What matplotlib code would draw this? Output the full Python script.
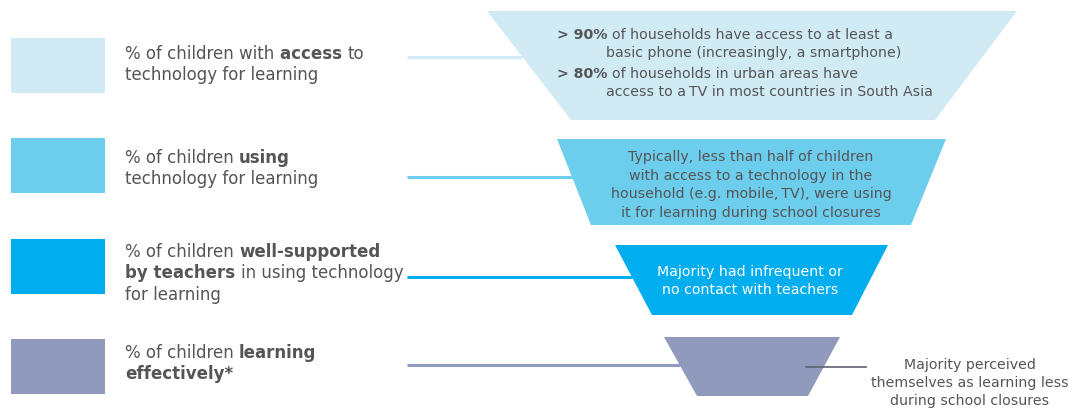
import matplotlib
matplotlib.use('Agg')
import matplotlib.pyplot as plt
from matplotlib.patches import Polygon, Rectangle

plt.rcParams['font.family'] = ['DejaVu Sans']

# levels of the funnel, top to bottom
level_colors = ['#d0ebf4', '#6dcdec', '#00aeef', '#8f9abd']
# label text as (text, bold) runs, one list per line
level_labels = [
    [[('% of children with ', 0), ('access ', 1), ('to', 0)],
     [('technology for learning', 0)]],
    [[('% of children ', 0), ('using', 1)],
     [('technology for learning', 0)]],
    [[('% of children ', 0), ('well-supported', 1)],
     [('by teachers ', 1), ('in using technology', 0)],
     [('for learning', 0)]],
    [[('% of children ', 0), ('learning', 1)],
     [('effectively*', 1)]],
]
access_notes = [
    ('> 90%', 'of households have access to at least a', 'basic phone (increasingly, a smartphone)'),
    ('> 80%', 'of households in urban areas have', 'access to a\u2009TV in most countries in South Asia'),
]
using_note = ('Typically, less than half of children\nwith access to a technology in the\n'
              'household (e.g. mobile,\u2009TV), were using\nit for learning during school closures')
teacher_note = 'Majority had infrequent or\nno contact with teachers'
learning_note = 'Majority perceived\nthemselves as learning less\nduring school closures'

# funnel geometry in pixels: (top y, bottom y, top left, top right, bottom left, bottom right)
trap = [
    (12, 121, 487, 1017, 571, 935),
    (140, 226, 557, 946, 591, 911),
    (246, 316, 615, 888, 652, 852),
    (338, 397, 664, 840, 697, 808),
]
square_top = [39, 139, 240, 340]
label_base = [59, 163, 257, 358]
line_y = [58, 178, 278, 366]

W, H = 1069, 410
fig = plt.figure(figsize=(W / 100, H / 100), dpi=100)
ax = fig.add_axes([0, 0, 1, 1])
ax.set_xlim(0, W)
ax.set_ylim(H, 0)
ax.axis('off')
renderer = fig.canvas.get_renderer()
txt_col = '#555558'
lab_size = 12.0
note_size = 10.2


def width_of(s, bold, size):
    t = ax.text(0, 0, s, fontsize=size, fontweight='bold' if bold else 'normal')
    w = t.get_window_extent(renderer).width
    t.remove()
    return w


def advance(s, bold, size):
    # bars on both sides so trailing spaces count
    return width_of('|' + s + '|', bold, size) - width_of('||', bold, size)


def rich_line(x, y, runs, size):
    for s, bold in runs:
        ax.text(x, y, s, fontsize=size, color=txt_col, va='baseline',
                fontweight='bold' if bold else 'normal')
        x += advance(s, bold, size)


for i, col in enumerate(level_colors):
    ax.add_patch(Rectangle((11, square_top[i]), 94, 55, color=col, lw=0))
    for j, runs in enumerate(level_labels[i]):
        rich_line(125, label_base[i] + j * 21.5, runs, lab_size)
    ty, by, tl, tr, bl, br = trap[i]
    ax.add_patch(Polygon([(tl, ty), (tr, ty), (br, by), (bl, by)], closed=True,
                         color=col, lw=0))
    # connector from label to the funnel edge
    frac = (line_y[i] - ty) / (by - ty)
    ax.plot([407, tl + (bl - tl) * frac], [line_y[i]] * 2, color=col, lw=2.2,
            solid_capstyle='butt')

# notes inside the funnel
for k, (pct, first, second) in enumerate(access_notes):
    y = 35 + k * 39
    ax.text(557, y, pct, fontsize=note_size, fontweight='bold', color=txt_col, va='center')
    ax.text(557 + advance(pct + ' ', 1, note_size), y, first, fontsize=note_size,
            color=txt_col, va='center')
    ax.text(606, y + 18.5, second, fontsize=note_size, color=txt_col, va='center')

ax.text(751, 185, using_note, fontsize=note_size, color=txt_col, ha='center', va='center',
        linespacing=1.4)
ax.text(750, 281, teacher_note, fontsize=note_size, color='white', ha='center', va='center',
        linespacing=1.4)
ax.plot([806, 866], [368, 368], color='#5d6170', lw=1.2)
ax.text(970, 383, learning_note, fontsize=note_size, color=txt_col, ha='center', va='center',
        linespacing=1.35)

fig.savefig('out.png', dpi=100)
